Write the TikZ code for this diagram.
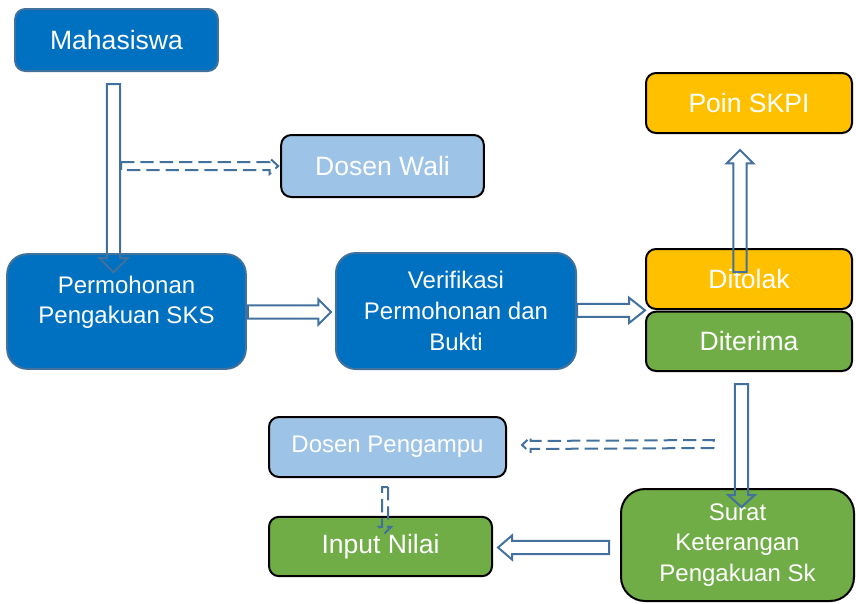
\documentclass[tikz,border=0pt]{standalone}
\usepackage{fontspec}
\setmainfont{Liberation Sans}
\usetikzlibrary{positioning,calc}
\definecolor{mblue}{HTML}{0070C0}
\definecolor{lblue}{HTML}{9DC3E6}
\definecolor{gold}{HTML}{FFC000}
\definecolor{mgreen}{HTML}{70AD47}
\definecolor{steel}{HTML}{41719C}
% outline arrow: [style]{from}{to}{shaft half}{head half}{head length}
\newcommand{\fatarrow}[6][]{%
  \coordinate (fa-s) at ($(#3)!#6!(#2)$);
  \draw[#1] ($(#2)!#4!90:(#3)$) -- ($(fa-s)!#4!-90:(#2)$) -- ($(fa-s)!#5!-90:(#2)$) -- (#3)
    -- ($(fa-s)!#5!90:(#2)$) -- ($(fa-s)!#4!90:(#2)$) -- ($(#2)!#4!-90:(#3)$) -- cycle;}

\begin{document}
\begin{tikzpicture}[x=0.75pt,y=-0.75pt,line join=miter]
\tikzstyle{box}=[rectangle,draw=black,line width=1.5pt,text=white,align=center,inner sep=0pt,rounded corners=7.5pt]
  \tikzstyle{bigtext}=[font=\fontsize{19.9}{24}\selectfont]
  \tikzstyle{midtext}=[font=\fontsize{18}{23}\selectfont]
  \tikzstyle{darkbox}=[box,fill=mblue,draw=steel]
  \tikzstyle{arr}=[draw=steel,line width=1.5pt]
  \tikzstyle{darr}=[arr,dash pattern=on 10pt off 4.5pt]
%
\useasboundingbox (0,0) rectangle (856,603);
%
\node[darkbox,bigtext,minimum width=152pt,minimum height=46.5pt] (mhs) at (116.5,40) {Mahasiswa};
  \node[box,bigtext,fill=lblue,minimum width=152pt,minimum height=46.5pt] (wali) at (382.5,166) {Dosen Wali};
  \node[darkbox,minimum width=179pt,minimum height=86pt,rounded corners=15pt,
    label={[midtext,text=white,align=center,yshift=7pt]center:Permohonan\\Pengakuan SKS}] (mohon) at (126.5,311.5) {};
  \node[darkbox,midtext,minimum width=180pt,minimum height=87pt,rounded corners=15pt] (verif) at (456,311) {Verifikasi\\Permohonan dan\\Bukti};
  \node[box,bigtext,fill=gold,minimum width=154.5pt,minimum height=45pt] (poin) at (749,103) {Poin SKPI};
  \node[box,bigtext,fill=gold,minimum width=154.5pt,minimum height=45pt] (tolak) at (749,279) {Ditolak};
  \node[box,bigtext,fill=mgreen,minimum width=154.5pt,minimum height=44.5pt] (terima) [below=0.5pt of tolak] {Diterima};
  \node[box,midtext,fill=lblue,minimum width=177.75pt,minimum height=45pt] (ampu) at (387.5,447) {Dosen Pengampu};
  \node[box,bigtext,fill=mgreen,minimum width=167.25pt,minimum height=44.5pt] (input) at (380.5,546.5) {Input Nilai};
  \node[box,midtext,fill=mgreen,minimum width=174.75pt,minimum height=84pt,rounded corners=18pt] (surat) at (737.5,545) {Surat\\Keterangan\\Pengakuan Sk};
%
\coordinate (a1) at ($(mhs.south)+(-3,12)$);
  \coordinate (a2) at ($(mohon.north)+(-13,19)$);
  \coordinate (b1) at ($(mohon.east)+(1,0.5)$);
  \coordinate (b2) at ($(verif.west)+(-4,1)$);
  \coordinate (c2) at ($(tolak.south west)!0.5!(terima.north west)$);
  \coordinate (c1) at (verif.east |- c2);
  \coordinate (d1) at ($(tolak)+(-9,-7)$);
  \coordinate (d2) at ($(poin.south)+(-9,16)$);
  \coordinate (e1) at ($(terima.south)+(-7.5,12)$);
  \coordinate (e2) at ($(surat.north)+(4,19)$);
  \coordinate (f1) at ($(surat.west)+(-11,2.5)$);
  \coordinate (f2) at ($(input.east)+(5,1)$);
  \coordinate (g1) at ($(mhs.south)+(4.5,94)$);
  \coordinate (g2) at ($(wali.west)+(-2,0)$);
  \coordinate (h1) at ($(terima.south)+(-35,72)$);
  \coordinate (h2) at ($(ampu.east)+(15,-2)$);
  \coordinate (i1) at ($(ampu.south)+(-2.5,9)$);
  \coordinate (i2) at ($(input.north)+(4.5,17)$);
%
\fatarrow[arr]{a1}{a2}{4.9pt}{10.5pt}{10.5pt}
  \fatarrow[arr]{b1}{b2}{4.9pt}{9.5pt}{9.5pt}
  \fatarrow[arr]{c1}{c2}{4.9pt}{9.5pt}{12pt}
  \fatarrow[arr]{d1}{d2}{4.9pt}{10pt}{10pt}
  \fatarrow[arr]{e1}{e2}{4.9pt}{10pt}{9pt}
  \fatarrow[arr]{f1}{f2}{4.9pt}{9pt}{10.5pt}
  \fatarrow[darr]{g1}{g2}{3pt}{6pt}{6.5pt}
  \fatarrow[darr]{h1}{h2}{3pt}{6pt}{6.5pt}
  \fatarrow[darr]{i1}{i2}{2.25pt}{4.5pt}{4.5pt}
\end{tikzpicture}
\end{document}
